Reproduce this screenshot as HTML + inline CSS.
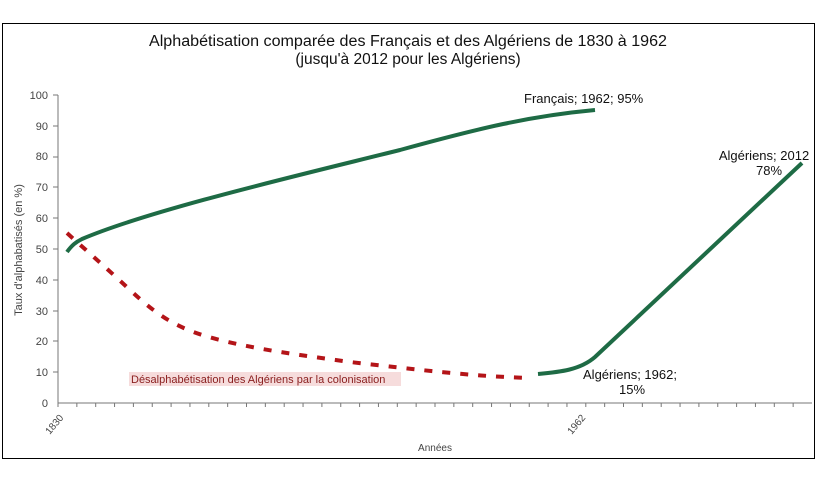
<!DOCTYPE html>
<html><head><meta charset="utf-8"><style>
body{margin:0;background:#fff}
svg{display:block;font-family:"Liberation Sans",sans-serif}
</style></head><body>
<svg width="837" height="485" viewBox="0 0 837 485">
<rect x="2.5" y="23.5" width="812" height="435" fill="#fff" stroke="#000" stroke-width="1"/>
<text x="408" y="46" text-anchor="middle" font-size="15.5" fill="#111" textLength="518" lengthAdjust="spacingAndGlyphs">Alphabétisation comparée des Français et des Algériens de 1830 à 1962</text>
<text x="408" y="64" text-anchor="middle" font-size="15.5" fill="#111">(jusqu'à 2012 pour les Algériens)</text>
<g stroke="#777" stroke-width="1" fill="none">
<line x1="58" y1="95" x2="58" y2="403"/>
<line x1="58" y1="403" x2="812" y2="403"/>
</g>
<g font-size="11" fill="#444" text-anchor="end">
<text x="48" y="99">100</text><text x="48" y="130">90</text><text x="48" y="160">80</text><text x="48" y="191">70</text><text x="48" y="222">60</text><text x="48" y="253">50</text><text x="48" y="284">40</text><text x="48" y="315">30</text><text x="48" y="345">20</text><text x="48" y="376">10</text><text x="48" y="407">0</text>
</g>
<g stroke="#777" stroke-width="1">
<line x1="53" y1="95" x2="58" y2="95"/><line x1="53" y1="126" x2="58" y2="126"/><line x1="53" y1="157" x2="58" y2="157"/><line x1="53" y1="187" x2="58" y2="187"/><line x1="53" y1="218" x2="58" y2="218"/><line x1="53" y1="249" x2="58" y2="249"/><line x1="53" y1="280" x2="58" y2="280"/><line x1="53" y1="311" x2="58" y2="311"/><line x1="53" y1="341" x2="58" y2="341"/><line x1="53" y1="372" x2="58" y2="372"/>
</g>
<path d="M58 403 v4 m18.85 -4 v4 m18.85 -4 v4 m18.85 -4 v4 m18.85 -4 v4 m18.85 -4 v4 m18.85 -4 v4 m18.85 -4 v4 m18.85 -4 v4 m18.85 -4 v4 m18.85 -4 v4 m18.85 -4 v4 m18.85 -4 v4 m18.85 -4 v4 m18.85 -4 v4 m18.85 -4 v4 m18.85 -4 v4 m18.85 -4 v4 m18.85 -4 v4 m18.85 -4 v4 m18.85 -4 v4 m18.85 -4 v4 m18.85 -4 v4 m18.85 -4 v4 m18.85 -4 v4 m18.85 -4 v4 m18.85 -4 v4 m18.85 -4 v4 m18.85 -4 v4 m18.85 -4 v4 m18.85 -4 v4 m18.85 -4 v4 m18.85 -4 v4 m18.85 -4 v4 m18.85 -4 v4 m18.85 -4 v4 m18.85 -4 v4 m18.85 -4 v4 m18.85 -4 v4 m18.85 -4 v4" stroke="#777" fill="none"/>
<text transform="translate(22,250) rotate(-90)" text-anchor="middle" font-size="11" fill="#444">Taux d'alphabatisés (en %)</text>
<text transform="translate(64,418) rotate(-50)" text-anchor="end" font-size="10" fill="#444">1830</text>
<text transform="translate(586,418) rotate(-50)" text-anchor="end" font-size="10" fill="#444">1962</text>
<text x="435" y="451" text-anchor="middle" font-size="10" fill="#444">Années</text>
<path d="M67 252 C72 245,76 242,82 239 C150 210,300 175,400 150 C480 128,530 116,595 110" stroke="#1e6b45" stroke-width="4" fill="none"/>
<path d="M67 233 C80 245,100 262,130 290 C160 318,180 330,220 340 C260 350,300 355,350 362 C420 370,470 376,528 378" stroke="#b41418" stroke-width="4" fill="none" stroke-dasharray="8,10"/>
<path d="M538 374 C560 372,580 370,595 357 L802 163" stroke="#1e6b45" stroke-width="4" fill="none"/>
<rect x="129" y="372" width="272" height="14" fill="#f6dcdc"/>
<text x="131" y="383" font-size="11" fill="#8b2020">Désalphabétisation des Algériens par la colonisation</text>
<text x="524" y="103" font-size="13" fill="#111">Français; 1962; 95%</text>
<text x="764" y="160" text-anchor="middle" font-size="13" fill="#111">Algériens; 2012</text>
<text x="769" y="175" text-anchor="middle" font-size="13" fill="#111">78%</text>
<text x="630" y="379" text-anchor="middle" font-size="13" fill="#111">Algériens; 1962;</text>
<text x="632" y="394" text-anchor="middle" font-size="13" fill="#111">15%</text>
</svg>
</body></html>
